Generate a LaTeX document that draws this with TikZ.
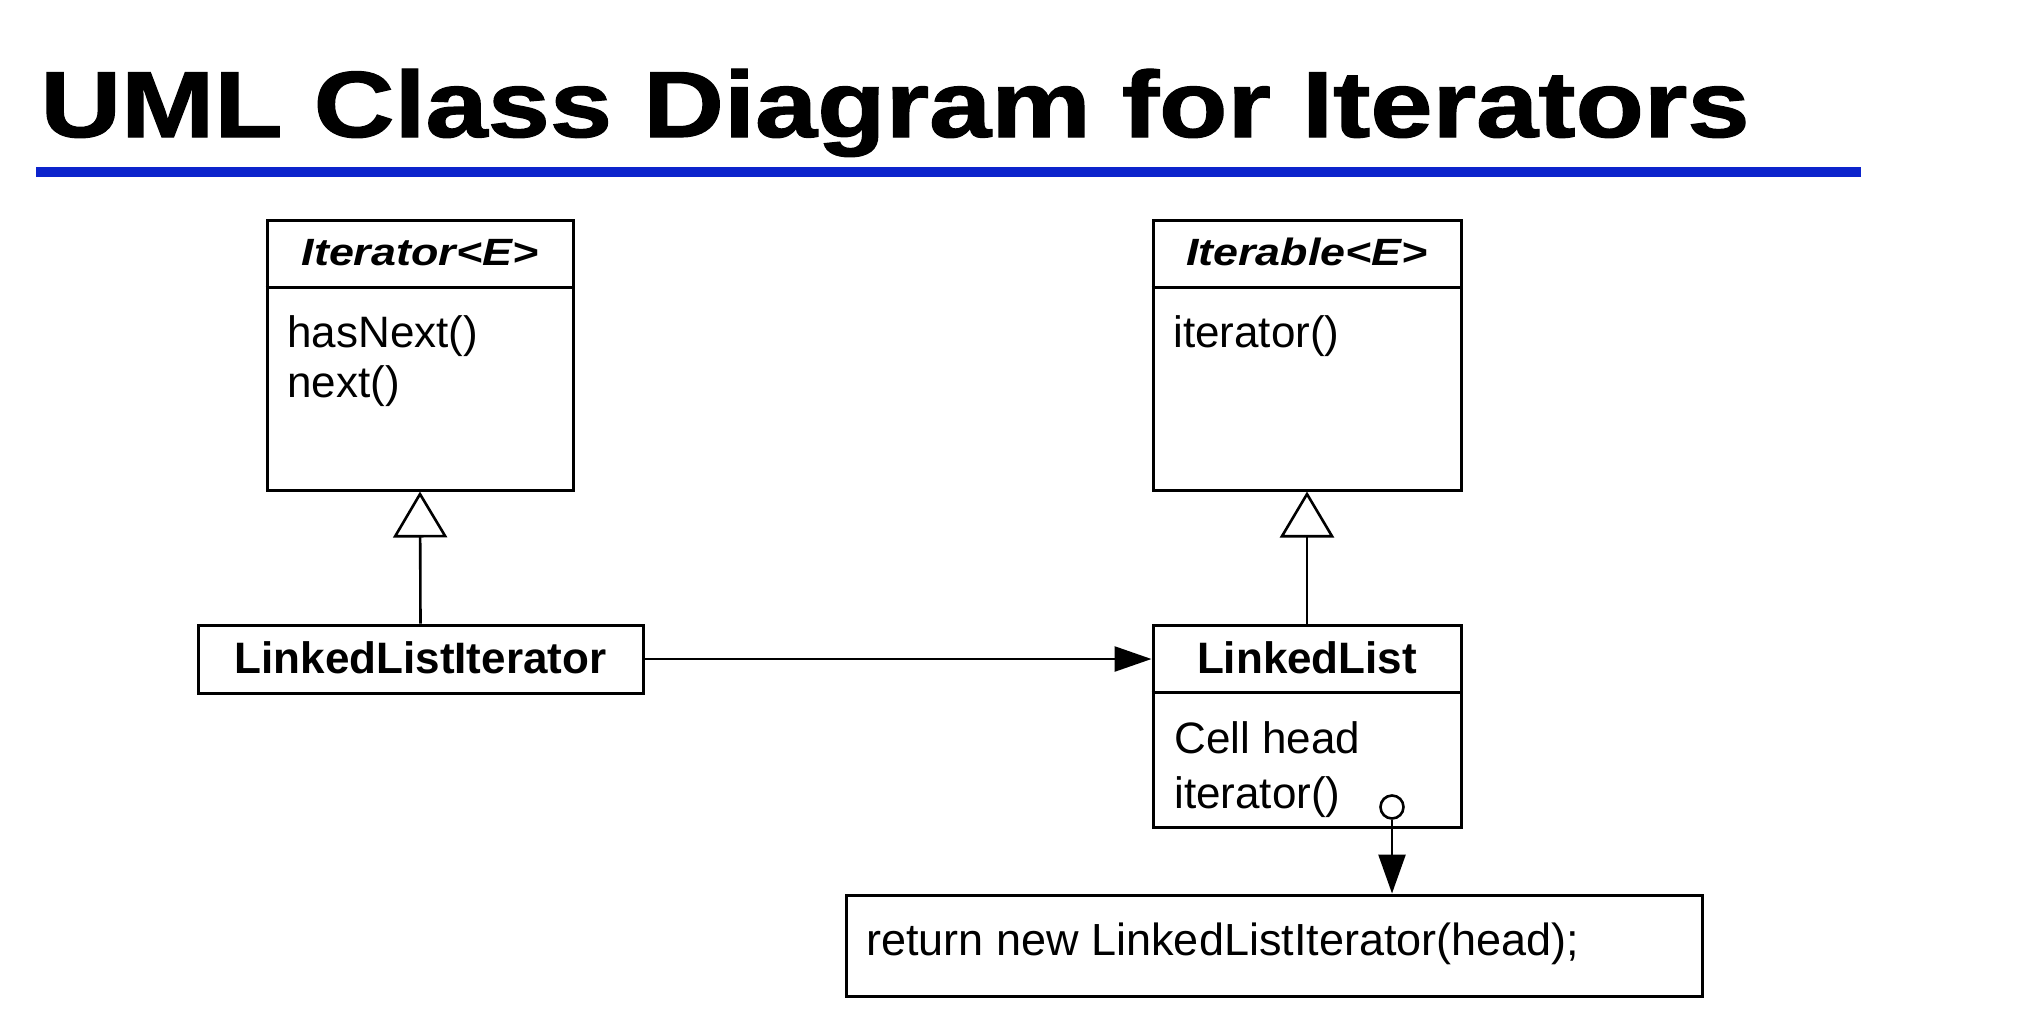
\documentclass[tikz,border=0pt]{standalone}
\usepackage{fontspec}
\usepackage{graphicx}
\setmainfont{Liberation Sans}
\newfontfamily\titlefont{Liberation Sans Bold}[FakeBold=1.2]
\usetikzlibrary{arrows.meta}
\definecolor{rulecol}{RGB}{12,36,204}
\tikzset{
  box/.style={draw, line width=1.5pt, rectangle, inner sep=0pt, fill=white},
  txt/.style={inner sep=0pt, font=\fontsize{22pt}{26pt}\selectfont},
  hdr/.style={inner sep=0pt, anchor=base, font=\fontsize{19pt}{22pt}\selectfont\bfseries\itshape},
  bold/.style={inner sep=0pt, anchor=base, font=\fontsize{22pt}{26pt}\selectfont\bfseries},
  sep/.style={line width=1.5pt},
  gen/.style={line width=1.3pt, -{Triangle[open, length=23pt, width=27pt, fill=white, line width=1.3pt]}},
  assoc/.style={line width=1.3pt, -{Triangle[length=18.5pt, width=12.5pt]}},
}
\begin{document}
\begin{tikzpicture}[x=0.5pt, y=-0.5pt]
\useasboundingbox (0,0) rectangle (2040,1014);
\fill[white] (0,0) rectangle (2040,1014);

% title and rule
\node[anchor=base west, inner sep=0pt] (title) at (40,137)
  {\titlefont\fontsize{47pt}{50pt}\selectfont\scalebox{1.19}[1]{UML Class Diagram for Iterators}};
\draw[rulecol, line width=5pt] (36,172) -- (1861,172);

% Iterator<E>
\node[box, minimum width=153pt, minimum height=135pt] (iter) at (420,355) {};
\draw[sep] (iter.west |- 0,287) -- (iter.east |- 0,287);
\node[hdr] (itername) at (420,265) {\scalebox{1.18}[1]{Iterator<E>}};
\node[txt, anchor=base west] (hasnext) at (287,347) {hasNext()};
\node[txt, anchor=base west] (next) at (287,397) {next()};

% Iterable<E>
\node[box, minimum width=154pt, minimum height=135pt] (itbl) at (1307,355) {};
\draw[sep] (itbl.west |- 0,287) -- (itbl.east |- 0,287);
\node[hdr] (itblname) at (1307,265) {\scalebox{1.18}[1]{Iterable<E>}};
\node[txt, anchor=base west] (itblop) at (1173,347) {iterator()};

% LinkedListIterator
\node[box, minimum width=222.5pt, minimum height=34pt] (llit) at (420.5,659) {};
\node[bold] (llitname) at (420.5,673) {LinkedListIterator};

% LinkedList
\node[box, minimum width=154pt, minimum height=101pt] (ll) at (1307,726) {};
\draw[sep] (ll.west |- 0,692) -- (ll.east |- 0,692);
\node[bold] (llname) at (1307,673) {LinkedList};
\node[txt, anchor=base west] (cellhead) at (1174,753) {Cell head};
\node[txt, anchor=base west] (llop) at (1174,808) {iterator()};

% code note
\node[box, minimum width=428pt, minimum height=50.5pt] (code) at (1274,945.5) {};
\node[txt, anchor=base west, font=\fontsize{22.5pt}{26pt}\selectfont] (codetxt) at (866,955) {return new LinkedListIterator(head);};

% connectors
\draw[gen] (llit.north) -- (iter.south);
\draw[gen] (ll.north) -- (itbl.south);
\draw[assoc] (llit.east) -- (llit.east -| ll.west);
\node[circle, draw, line width=1.3pt, minimum size=11.5pt, inner sep=0pt] (impl) at (1392,807) {};
\draw[line width=1.3pt, -{Triangle[length=19.5pt, width=13.5pt]}] (impl.south) -- (impl |- code.north);
\end{tikzpicture}
\end{document}
